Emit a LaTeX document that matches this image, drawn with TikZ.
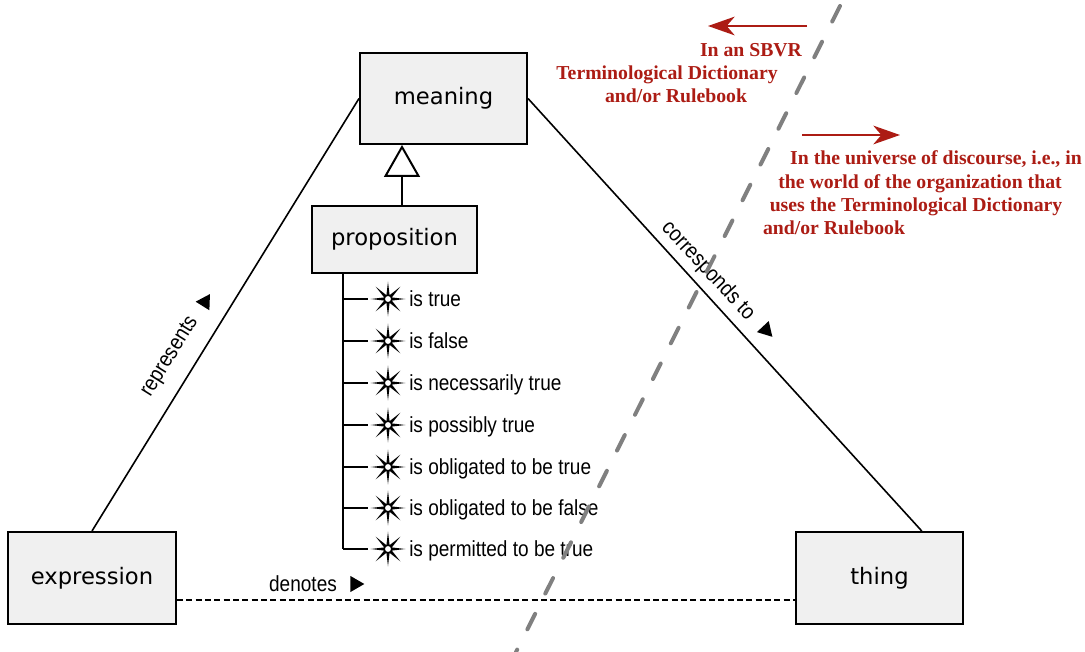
\documentclass[tikz,border=0pt]{standalone}
\usepackage{fontspec}
\usetikzlibrary{shapes.geometric,arrows.meta,calc}
\newfontfamily\boxfont{DejaVu Sans}
\newfontfamily\labfont[FakeStretch=0.87]{Liberation Sans}
\newfontfamily\redfont{Liberation Serif}
\definecolor{boxgray}{RGB}{240,240,240}
\definecolor{sbvrred}{RGB}{172,28,20}
\definecolor{divgray}{RGB}{128,128,128}
\begin{document}
\begin{tikzpicture}[x=0.75pt,y=-0.75pt,
  concept/.style={draw=black, line width=1.5pt, fill=boxgray, inner sep=0pt, font=\boxfont\fontsize{17}{20}\selectfont},
  link/.style={line width=1.2pt},
  genline/.style={line width=1.5pt},
  lab/.style={font=\labfont\fontsize{16.4}{19}\selectfont, inner sep=0pt},
  dirmark/.style={regular polygon, regular polygon sides=3, fill=black, inner sep=0pt, minimum size=14pt},
  facet/.style={star, star points=8, star point ratio=4.2, fill=black, inner sep=0pt, minimum size=26pt,
    path picture={\fill[white] (path picture bounding box.center) circle (2.2pt);}},
  facetlab/.style={lab, anchor=west, text height=11.7pt, text depth=0pt},
  redtxt/.style={text=sbvrred, font=\redfont\bfseries\fontsize{14.8}{17}\selectfont, inner sep=0pt, text height=10pt, text depth=0pt},
  redarrow/.style={draw=sbvrred, line width=1.5pt, -{Stealth[length=20pt,width=14pt,inset=6pt]}},
  divider/.style={draw=divgray, line width=3pt, line cap=round, dash pattern=on 13pt off 17pt},
]
\useasboundingbox (0,0) rectangle (1085,652);
\fill[white] (0,0) rectangle (1085,652);

% concept boxes
\node[concept, minimum width=125.25pt, minimum height=68.25pt] (meaning) at (443.5,98.5) {meaning};
\node[concept, minimum width=123.75pt, minimum height=50.25pt] (prop) at (394.5,239.5) {proposition};
\node[concept, minimum width=126pt, minimum height=69pt] (expr) at (92,578) {expression};
\node[concept, minimum width=125.25pt, minimum height=69pt] (thing) at (879.5,578) {thing};

% triangle connectors
\draw[link] (meaning.west) -- (expr.north);
\draw[link] (meaning.east) -- ($(thing.north west)!0.75!(thing.north east)$);
\draw[link, dash pattern=on 4.5pt off 2.5pt] ([yshift=-16.5pt]expr.east) -- ([yshift=-16.5pt]thing.west);

% generalization
\coordinate (gtip) at (402,147);
\coordinate (gbase) at (402,176);
\draw[genline, fill=white] (gtip) -- ($(gbase)+(16.5,0)$) -- ($(gbase)+(-16.5,0)$) -- cycle;
\draw[genline] (prop.north -| gbase) -- (gbase);

% characteristics of proposition
\coordinate (bus) at ($(prop.south west)+(32,0)$);
\foreach \i/\y/\t in {1/299/is true, 2/341/is false, 3/383/is necessarily true, 4/425/is possibly true, 5/467/is obligated to be true, 6/508/is obligated to be false, 7/549/is permitted to be true} {
  \node[facet] (s\i) at (388,\y) {};
  \node[facetlab] (l\i) at (409,\y) {\t};
  \draw[genline] (bus |- s\i) -- (s\i.west);
}
\draw[genline] (bus) -- (bus |- s7);

% verb labels
\node[lab, rotate=58] (rep) at (170,357) {represents};
\node[dirmark, rotate=-32] (repm) at (205,302) {};
\node[lab, rotate=-47] (corr) at (708,271) {corresponds to};
\node[dirmark, rotate=-137] (corrm) at (766,330) {};
\node[lab] (den) at (303,584) {denotes};
\node[dirmark, rotate=-90] (denm) at (355,584) {};

% red annotations
\coordinate (a1s) at (807,26);
\coordinate (a1e) at (708,26);
\draw[redarrow] (a1s) -- (a1e);
\coordinate (a2s) at (802,135);
\coordinate (a2e) at (900,135);
\draw[redarrow] (a2s) -- (a2e);
\node[redtxt] (d1) at (751,50) {In an SBVR};
\node[redtxt] (d2) at (667,73) {Terminological Dictionary};
\node[redtxt] (d3) at (676,96) {and/or Rulebook};
\node[redtxt] (u1) at (936,158) {In the universe of discourse, i.e., in};
\node[redtxt] (u2) at (920,182) {the world of the organization that};
\node[redtxt] (u3) at (916,205) {uses the Terminological Dictionary};
\node[redtxt] (u4) at (834,228) {and/or Rulebook};

% divider
\coordinate (dtop) at (840,6);
\coordinate (dbot) at (516,652);
\draw[divider] (dtop) -- (dbot);
\end{tikzpicture}
\end{document}
